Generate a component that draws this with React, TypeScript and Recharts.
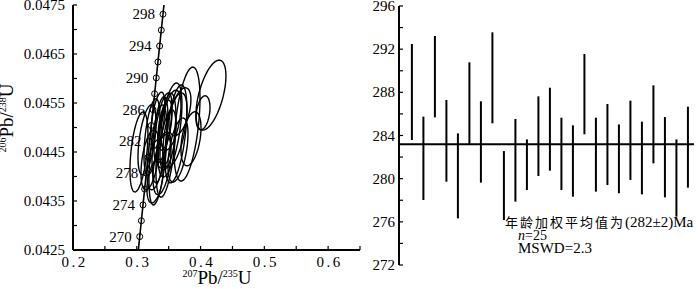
import React from 'react';
import { ComposedChart, Scatter, XAxis, YAxis, ReferenceArea, ReferenceLine, Bar } from 'recharts';

// ---- Concordia curve (age in Ma, 207Pb/235U, 206Pb/238U) ----
const concordiaAges = [268, 270, 272, 274, 276, 278, 280, 282, 284, 286, 288, 290, 292, 294, 296, 298, 300];
const concordiaX = [0.30205, 0.30462, 0.30719, 0.30977, 0.31235, 0.31494, 0.31753, 0.32013, 0.32273, 0.32534, 0.32795, 0.33057, 0.33319, 0.33582, 0.33845, 0.34109, 0.34374];
const concordiaY = [0.042450, 0.042773, 0.043097, 0.043420, 0.043744, 0.044068, 0.044392, 0.044716, 0.045040, 0.045365, 0.045689, 0.046013, 0.046338, 0.046663, 0.046987, 0.047312, 0.047637];
const markedAges = [270, 272, 274, 276, 278, 280, 282, 284, 286, 288, 290, 292, 294, 296, 298];
const labeledAges = [270, 274, 278, 282, 286, 290, 294, 298];

// ---- Error ellipses of the analyses ----
const ellipseX = [0.4163, 0.4038, 0.3787, 0.3850, 0.3034, 0.3332, 0.3238, 0.3458, 0.3614, 0.3520, 0.3364, 0.3536, 0.3677, 0.3442, 0.3285, 0.3426, 0.3599, 0.3160, 0.3285, 0.3411, 0.3489, 0.3332, 0.3207, 0.3646, 0.3395];
const ellipseY = [0.04566, 0.04530, 0.04507, 0.04477, 0.04450, 0.04444, 0.04481, 0.04464, 0.04487, 0.04495, 0.04475, 0.04515, 0.04532, 0.04505, 0.04424, 0.04454, 0.04495, 0.04475, 0.04391, 0.04499, 0.04475, 0.04515, 0.04434, 0.04454, 0.04424];
const ellipseSX = [0.0235, 0.0110, 0.0204, 0.0157, 0.0141, 0.0141, 0.0125, 0.0157, 0.0172, 0.0188, 0.0125, 0.0157, 0.0172, 0.0110, 0.0125, 0.0110, 0.0188, 0.0141, 0.0125, 0.0141, 0.0125, 0.0110, 0.0141, 0.0157, 0.0141];
const ellipseSY = [0.000714, 0.000347, 0.001163, 0.000551, 0.000816, 0.00102, 0.000776, 0.001061, 0.001, 0.000959, 0.000878, 0.000612, 0.00049, 0.00051, 0.00051, 0.000367, 0.000755, 0.000714, 0.000449, 0.000714, 0.000612, 0.000571, 0.000612, 0.000653, 0.000612];
const ellipseRho = [0.55, 0.3, 0.45, 0.4, 0.45, 0.5, 0.5, 0.5, 0.5, 0.55, 0.5, 0.5, 0.5, 0.5, 0.4, 0.4, 0.55, 0.5, 0.4, 0.6, 0.5, 0.5, 0.45, 0.5, 0.45];

// ---- Axes ----
const xTicks = [0.2, 0.25, 0.3, 0.35, 0.4, 0.45, 0.5, 0.55, 0.6, 0.65];
const yTicks = [0.0425, 0.043, 0.0435, 0.044, 0.0445, 0.045, 0.0455, 0.046, 0.0465, 0.047, 0.0475];
const ageTicks = [272, 274, 276, 278, 280, 282, 284, 286, 288, 290, 292, 294, 296];

// ---- Weighted mean plot ----
const spotNo = [1, 2, 3, 4, 5, 6, 7, 8, 9, 10, 11, 12, 13, 14, 15, 16, 17, 18, 19, 20, 21, 22, 23, 24, 25];
const ageLow = [283.58, 278.02, 285.68, 279.72, 276.32, 283.21, 279.63, 285.13, 276.17, 277.87, 278.95, 280.25, 280.74, 278.95, 278.33, 284.11, 278.8, 279.41, 278.64, 279.88, 278.55, 281.42, 278.27, 276.48, 279.17];
const ageHigh = [292.48, 285.75, 293.22, 287.29, 284.2, 290.78, 287.17, 293.56, 282.56, 285.53, 283.64, 287.63, 288.43, 285.65, 284.94, 291.55, 285.65, 286.92, 285.03, 287.23, 285.28, 288.65, 285.71, 283.64, 286.67];
const meanAge = 283.2;

const SERIF = 'Liberation Serif, DejaVu Serif, serif';
const CJK = 'Noto Sans CJK SC, sans-serif';
const serifStyle = { fontFamily: SERIF };
const cjkStyle = { fontFamily: CJK };

const concordiaData = concordiaAges.map((age, i) => ({ age, x: concordiaX[i], y: concordiaY[i] }));
const barData = spotNo.map((n, i) => ({ n, range: [ageLow[i], ageHigh[i]] }));

function ellipsePath(x: number, y: number, w: number, h: number, rho: number) {
  const cx = x + w / 2;
  const cy = y + h / 2;
  const a = w / 2;
  const b = h / 2;
  const s = Math.sqrt(1 - rho * rho);
  let d = '';
  for (let k = 0; k <= 90; k++) {
    const t = (k / 90) * 2 * Math.PI;
    const u = a * Math.cos(t);
    const v = b * (rho * Math.cos(t) + s * Math.sin(t));
    d += (k ? 'L' : 'M') + (cx + u).toFixed(2) + ',' + (cy - v).toFixed(2);
  }
  return d + 'Z';
}

const makeEllipseShape = (rho: number) => (p: any) => (
  <path d={ellipsePath(p.x, p.y, p.width, p.height, rho)} fill="none" stroke="#000" strokeWidth={1.4} />
);

const ConcordiaMarker = (p: any) => {
  const age = p.payload?.age;
  if (!markedAges.includes(age)) return <g />;
  return (
    <g>
      <circle cx={p.cx} cy={p.cy} r={3} fill="none" stroke="#000" strokeWidth={1} />
      {labeledAges.includes(age) ? (
        <text x={p.cx - 8} y={p.cy + 5} textAnchor="end" style={serifStyle} fontSize={15} fill="#000">
          {age}
        </text>
      ) : null}
    </g>
  );
};

const XTick = (p: any) => {
  const { x, y, payload, index } = p;
  const show = index % 2 === 0 && payload.value < 0.64;
  return (
    <g>
      <line x1={x} y1={y} x2={x} y2={y - 4} stroke="#000" strokeWidth={1.2} />
      {show ? (
        <text x={x + 1.5} y={y + 17} textAnchor="middle" style={serifStyle} fontSize={15} letterSpacing={2.5} fill="#000">
          {String(payload.value)}
        </text>
      ) : null}
    </g>
  );
};

const makeYTick = (gap: number) => (p: any) => {
  const { x, y, payload, index } = p;
  const show = index % 2 === 0;
  return (
    <g>
      <line x1={x} y1={y} x2={x + 4} y2={y} stroke="#000" strokeWidth={1.2} />
      {show ? (
        <text x={x - gap} y={y + 5} textAnchor="end" style={serifStyle} fontSize={15} fill="#000">
          {String(payload.value)}
        </text>
      ) : null}
    </g>
  );
};

const border = { stroke: '#000', strokeWidth: 2 };

export default function App() {
  return (
    <div style={{ position: 'absolute', left: 0, top: 0, width: 700, height: 289, background: '#fff' }}>
      <div style={{ position: 'absolute', left: 0, top: 0 }}>
        <ComposedChart width={362} height={289} margin={{ top: 5, right: 2, bottom: 19, left: 0 }}>
          <XAxis
            xAxisId={0}
            type="number"
            dataKey="x"
            domain={[0.2, 0.65]}
            ticks={xTicks}
            interval={0}
            allowDataOverflow
            height={20}
            tickSize={0}
            tickMargin={0}
            tickLine={false}
            axisLine={border}
            tick={XTick}
          />
          <XAxis xAxisId="top" orientation="top" type="number" domain={[0.2, 0.65]} height={0} tick={false} tickLine={false} axisLine={border} />
          <YAxis
            yAxisId={0}
            type="number"
            dataKey="y"
            domain={[0.0425, 0.0475]}
            ticks={yTicks}
            interval={0}
            allowDataOverflow
            width={73}
            tickSize={0}
            tickMargin={0}
            tickLine={false}
            axisLine={border}
            tick={makeYTick(8)}
          />
          <YAxis yAxisId="right" orientation="right" type="number" domain={[0.0425, 0.0475]} width={0} tick={false} tickLine={false} axisLine={border} />
          {ellipseX.map((ex, i) => (
            <ReferenceArea
              key={i}
              xAxisId={0}
              yAxisId={0}
              x1={ex - ellipseSX[i]}
              x2={ex + ellipseSX[i]}
              y1={ellipseY[i] - ellipseSY[i]}
              y2={ellipseY[i] + ellipseSY[i]}
              ifOverflow="visible"
              shape={makeEllipseShape(ellipseRho[i])}
            />
          ))}
          <Scatter
            xAxisId={0}
            yAxisId={0}
            data={concordiaData}
            dataKey="y"
            line={{ stroke: '#000', strokeWidth: 1.6 }}
            shape={ConcordiaMarker}
            isAnimationActive={false}
          />
        </ComposedChart>
      </div>
      <div style={{ position: 'absolute', left: 362, top: 0 }}>
        <ComposedChart width={338} height={289} data={barData} margin={{ top: 6, right: 6, bottom: 24, left: 0 }}>
          <XAxis xAxisId={0} type="number" dataKey="n" domain={[-0.1, 25.55]} allowDataOverflow height={0} tick={false} tickLine={false} axisLine={border} />
          <XAxis xAxisId="top" orientation="top" type="number" domain={[-0.1, 25.55]} height={0} tick={false} tickLine={false} axisLine={border} />
          <YAxis
            yAxisId={0}
            type="number"
            domain={[272, 296]}
            ticks={ageTicks}
            interval={0}
            allowDataOverflow
            width={37}
            tickSize={0}
            tickMargin={0}
            tickLine={false}
            axisLine={border}
            tick={makeYTick(4)}
          />
          <YAxis yAxisId="right" orientation="right" type="number" domain={[272, 296]} width={0} tick={false} tickLine={false} axisLine={border} />
          <Bar xAxisId={0} yAxisId={0} dataKey="range" barSize={2} fill="#000" isAnimationActive={false} />
          <ReferenceLine xAxisId={0} yAxisId={0} y={meanAge} stroke="#000" strokeWidth={2} />
        </ComposedChart>
      </div>
      <svg width={700} height={289} style={{ position: 'absolute', left: 0, top: 0, pointerEvents: 'none' }}>
        <text transform="translate(13,118) rotate(-90)" textAnchor="middle" style={serifStyle} fill="#000">
          <tspan fontSize={10} dy={-7}>206</tspan>
          <tspan fontSize={19} dy={7}>Pb/</tspan>
          <tspan fontSize={10} dy={-7}>238</tspan>
          <tspan fontSize={19} dy={7}>U</tspan>
        </text>
        <text x={217} y={284} textAnchor="middle" style={serifStyle} fill="#000">
          <tspan fontSize={10} dy={-7}>207</tspan>
          <tspan fontSize={19} dy={7}>Pb/</tspan>
          <tspan fontSize={10} dy={-7}>235</tspan>
          <tspan fontSize={19} dy={7}>U</tspan>
        </text>
        <text x={505} y={227} fill="#000">
          <tspan style={cjkStyle} fontSize={13} letterSpacing={2}>年龄加权平均值为</tspan>
          <tspan style={serifStyle} fontSize={15}>(282±2)Ma</tspan>
        </text>
        <text x={518} y={240} style={serifStyle} fontSize={14} fill="#000">
          <tspan fontStyle="italic">n</tspan>
          <tspan>=25</tspan>
        </text>
        <text x={518} y={253} style={serifStyle} fontSize={15} fill="#000">MSWD=2.3</text>
      </svg>
    </div>
  );
}
